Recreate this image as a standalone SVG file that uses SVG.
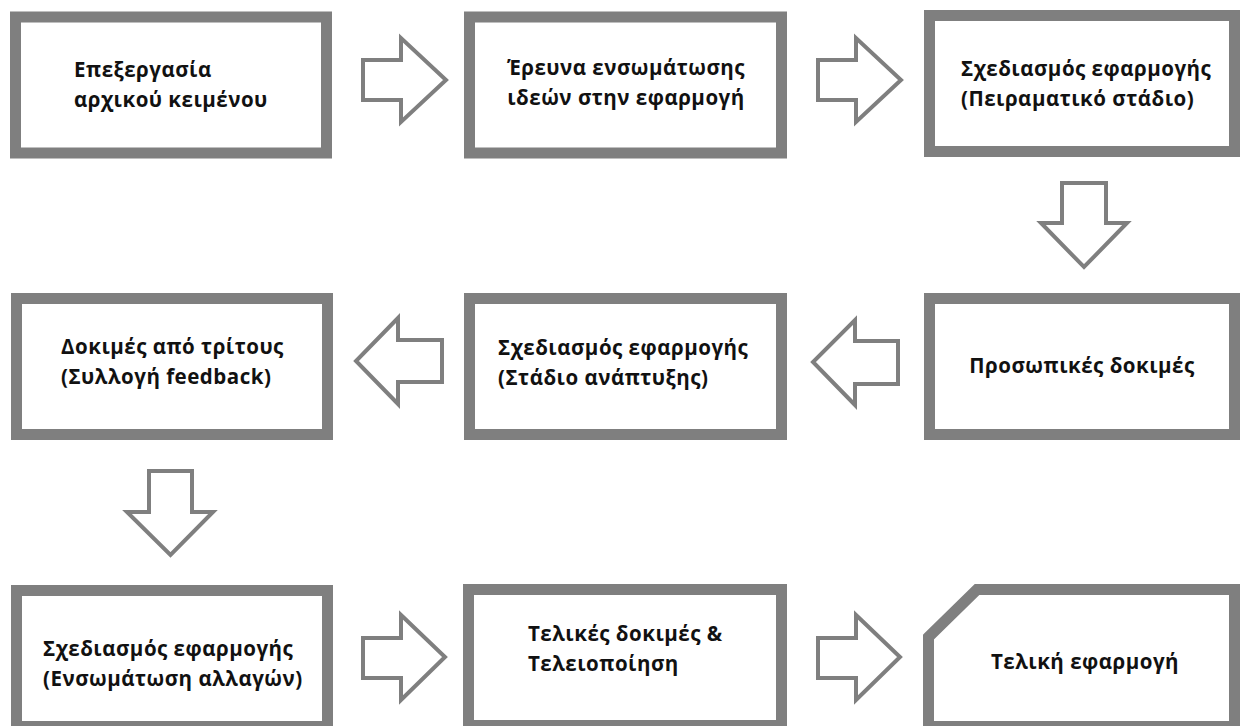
<svg xmlns="http://www.w3.org/2000/svg" width="1241" height="726" viewBox="0 0 1241 726">
<style>
.box{fill:#ffffff;stroke:#7f7f7f;stroke-width:11}
.arr{fill:#ffffff;stroke:#7f7f7f;stroke-width:4;stroke-linejoin:miter}
.t{font-family:"Open Sans","Noto Sans","DejaVu Sans",sans-serif;font-weight:700;font-size:20.5px;letter-spacing:0.5px;fill:#111111}
.m{text-anchor:middle}
</style>
<rect width="1241" height="726" fill="#ffffff"/>
<g id="n1"><rect class="box" x="15.5" y="17" width="311" height="136"/>
<text class="t" x="74" y="77">Επεξεργασία</text><text class="t" x="74" y="107">αρχικού κειμένου</text></g>
<g id="n2"><rect class="box" x="469.5" y="17" width="312" height="136"/>
<text class="t m" x="626" y="75">Έρευνα ενσωμάτωσης</text><text class="t m" x="626" y="105">ιδεών στην εφαρμογή</text></g>
<g id="n3"><rect class="box" x="929.5" y="15.5" width="305" height="136"/>
<text class="t" x="961" y="76">Σχεδιασμός εφαρμογής</text><text class="t" x="961" y="106">(Πειραματικό στάδιο)</text></g>
<g id="n4"><rect class="box" x="16.5" y="298.5" width="311" height="136"/>
<text class="t" x="61" y="354">Δοκιμές από τρίτους</text><text class="t" x="61" y="384">(Συλλογή feedback)</text></g>
<g id="n5"><rect class="box" x="469.5" y="298.5" width="312" height="136"/>
<text class="t" x="498" y="355">Σχεδιασμός εφαρμογής</text><text class="t" x="498" y="385">(Στάδιο ανάπτυξης)</text></g>
<g id="n6"><rect class="box" x="929.5" y="298.5" width="305" height="136"/>
<text class="t m" x="1082" y="373">Προσωπικές δοκιμές</text></g>
<g id="n7"><rect class="box" x="16.5" y="590.5" width="311" height="136"/>
<text class="t" x="43" y="656">Σχεδιασμός εφαρμογής</text><text class="t" x="43" y="686">(Ενσωμάτωση αλλαγών)</text></g>
<g id="n8"><rect class="box" x="468.5" y="589.5" width="313" height="136"/>
<text class="t" x="528" y="641">Τελικές δοκιμές &amp;</text><text class="t" x="528" y="671">Τελειοποίηση</text></g>
<g id="n9"><path class="box" d="M928.5,637 L977,589.5 H1234.5 V726.5 H928.5 Z"/>
<text class="t m" x="1085" y="669">Τελική εφαρμογή</text></g>
<g id="connectors">
<path class="arr" d="M363,60 H401 V38 L446,80 L401,122 V100 H363 Z"/>
<path class="arr" d="M818,60 H856 V38 L901,80 L856,122 V100 H818 Z"/>
<path class="arr" d="M1062,183 V223 H1041 L1084,267 L1127,223 H1106 V183 Z"/>
<path class="arr" d="M898,341 H855 V320 L813,362 L855,405 V384 H898 Z"/>
<path class="arr" d="M442,340 H398 V318 L356,361 L398,404 V382 H442 Z"/>
<path class="arr" d="M149,471 V512 H127 L170.5,555 L213,512 H192 V471 Z"/>
<path class="arr" d="M363,638 H401 V615 L445,657 L401,700 V678 H363 Z"/>
<path class="arr" d="M818,638 H856 V615 L900,657 L856,700 V678 H818 Z"/>
</g>
</svg>
